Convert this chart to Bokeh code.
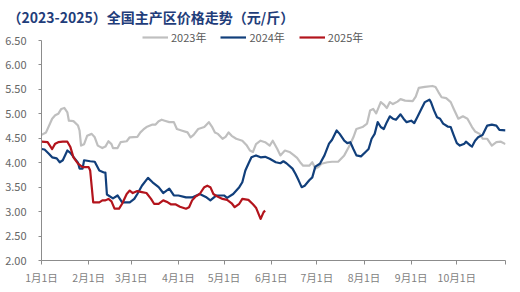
from bokeh.plotting import figure
from bokeh.models import (Range1d, FixedTicker, Legend, LegendItem, Title,
                          NumeralTickFormatter)
from bokeh.embed import file_html
from bokeh.resources import INLINE

title_text = "（2023-2025）全国主产区价格走势（元/斤）"

days_2023 = [0, 3, 7, 9, 11, 13, 15, 17, 18, 21, 24, 25, 26, 28, 30, 33, 35, 37, 40, 42,
             44, 46, 47, 50, 52, 56, 58, 63, 65, 67, 69, 73, 75, 77, 79, 81, 84, 87, 89, 92,
             96, 98, 100, 103, 107, 110, 112, 114, 116, 119, 121, 123, 125, 128, 132, 135,
             137, 139, 141, 144, 147, 150, 152, 155, 157, 160, 163, 166, 168, 170, 172, 176,
             178, 180, 182, 184, 188, 191, 195, 199, 202, 205, 207, 211, 214, 216, 218, 220,
             223, 225, 227, 229, 231, 234, 236, 239, 244, 246, 248, 252, 257, 259, 261, 263,
             266, 269, 271, 274, 277, 280, 283, 285, 288, 290, 293, 296, 299, 302, 305]
price_2023 = [4.57, 4.62, 4.90, 4.97, 5.00, 5.10, 5.12, 5.03, 4.86, 4.85, 4.76, 4.66, 4.35,
              4.38, 4.55, 4.59, 4.52, 4.35, 4.30, 4.33, 4.44, 4.38, 4.30, 4.30, 4.42, 4.44,
              4.52, 4.53, 4.62, 4.68, 4.73, 4.78, 4.78, 4.85, 4.88, 4.86, 4.83, 4.83, 4.69,
              4.66, 4.62, 4.52, 4.57, 4.69, 4.73, 4.83, 4.74, 4.62, 4.59, 4.49, 4.53, 4.62,
              4.55, 4.49, 4.45, 4.35, 4.25, 4.22, 4.38, 4.45, 4.42, 4.35, 4.45, 4.28, 4.15,
              4.25, 4.22, 4.15, 4.10, 4.01, 3.94, 3.94, 4.01, 3.88, 3.91, 3.98, 4.01, 4.02,
              4.02, 4.15, 4.32, 4.52, 4.69, 4.73, 4.80, 5.07, 5.10, 5.01, 5.24, 5.19, 5.12,
              5.24, 5.20, 5.25, 5.30, 5.27, 5.26, 5.35, 5.53, 5.55, 5.57, 5.55, 5.44, 5.34,
              5.32, 5.24, 5.10, 4.90, 4.95, 4.90, 4.73, 4.64, 4.59, 4.49, 4.49, 4.35, 4.42,
              4.43, 4.38]

days_2024 = [0, 2, 5, 7, 10, 12, 14, 17, 19, 22, 24, 25, 27, 28, 32, 35, 38, 41, 42, 43,
             47, 50, 53, 58, 61, 63, 66, 70, 73, 77, 80, 84, 87, 90, 95, 99, 104, 108, 111,
             115, 120, 122, 126, 130, 132, 134, 136, 138, 141, 144, 147, 150, 154, 157, 159,
             161, 165, 167, 169, 171, 173, 176, 178, 180, 183, 186, 189, 191, 194, 196, 199,
             201, 203, 205, 207, 210, 213, 215, 217, 219, 221, 223, 225, 227, 229, 231, 233,
             236, 238, 240, 243, 245, 247, 250, 252, 255, 256, 258, 260, 262, 264, 267, 269,
             271, 273, 275, 278, 279, 282, 283, 285, 287, 290, 293, 296, 299, 301, 305]
price_2024 = [4.28, 4.27, 4.18, 4.11, 4.09, 4.01, 4.05, 4.25, 4.20, 4.08, 4.00, 3.88, 3.88,
              4.05, 4.03, 4.02, 3.84, 3.80, 3.80, 3.35, 3.27, 3.33, 3.19, 3.19, 3.26, 3.36,
              3.53, 3.69, 3.60, 3.50, 3.38, 3.47, 3.33, 3.33, 3.29, 3.29, 3.36, 3.30, 3.23,
              3.33, 3.33, 3.28, 3.36, 3.50, 3.60, 3.84, 3.98, 4.11, 4.15, 4.11, 4.12, 4.08,
              4.01, 3.99, 4.03, 3.99, 3.88, 3.77, 3.64, 3.50, 3.53, 3.64, 3.70, 3.92, 3.98,
              4.15, 4.39, 4.47, 4.66, 4.59, 4.45, 4.40, 4.42, 4.28, 4.15, 4.13, 4.22, 4.28,
              4.49, 4.59, 4.83, 4.73, 4.69, 4.83, 4.95, 4.90, 4.88, 4.99, 4.90, 4.83, 4.86,
              4.81, 4.93, 5.12, 5.24, 5.29, 5.24, 5.07, 4.93, 4.90, 4.80, 4.74, 4.73, 4.56,
              4.40, 4.35, 4.39, 4.43, 4.35, 4.33, 4.45, 4.52, 4.57, 4.76, 4.78, 4.76, 4.67,
              4.66]

days_2025 = [0, 4, 7, 9, 11, 14, 17, 19, 21, 24, 27, 31, 32, 34, 38, 40, 42, 44, 46, 48,
             51, 53, 56, 58, 60, 63, 66, 69, 72, 74, 77, 80, 83, 85, 88, 91, 95, 97, 99, 101,
             104, 107, 109, 111, 113, 115, 119, 122, 125, 127, 130, 132, 136, 139, 141, 144,
             146, 147]
price_2025 = [4.43, 4.42, 4.28, 4.39, 4.42, 4.43, 4.43, 4.32, 4.11, 3.98, 3.91, 3.91, 3.84,
              3.19, 3.19, 3.23, 3.23, 3.26, 3.21, 3.06, 3.06, 3.16, 3.36, 3.43, 3.38, 3.42,
              3.40, 3.38, 3.26, 3.16, 3.16, 3.23, 3.19, 3.15, 3.15, 3.10, 3.06, 3.09, 3.23,
              3.30, 3.36, 3.50, 3.53, 3.50, 3.36, 3.32, 3.26, 3.24, 3.17, 3.09, 3.16, 3.26,
              3.24, 3.15, 3.08, 2.85, 2.99, 3.02]

tick_days = [0, 31, 59, 90, 120, 151, 181, 212, 243, 273, 305]
tick_labels = ["1月1日", "2月1日", "3月1日", "4月1日", "5月1日", "6月1日",
               "7月1日", "8月1日", "9月1日", "10月1日", ""]
y_ticks = [2.0, 2.5, 3.0, 3.5, 4.0, 4.5, 5.0, 5.5, 6.0, 6.5]

series_names = ["2023年", "2024年", "2025年"]
series_colors = ["#bfbfbf", "#113f7b", "#b3141c"]

FONT = "Noto Sans CJK SC"
PX_PER_UNIT = 220 / 4.5
Y_TOP = 6.5 + 14 / PX_PER_UNIT  # headroom above the axis for the legend

p = figure(width=520, height=292, output_backend="svg", toolbar_location=None,
           x_range=Range1d(0, 305), y_range=Range1d(2.0, Y_TOP),
           min_border_left=41, min_border_right=15, min_border_top=26,
           min_border_bottom=32, background_fill_color="white",
           border_fill_color="white")
p.title = None
p.outline_line_color = None
p.xgrid.visible = False
p.ygrid.visible = False

r23 = p.line(days_2023, price_2023, line_color=series_colors[0], line_width=2.2,
             line_join="round")
r24 = p.line(days_2024, price_2024, line_color=series_colors[1], line_width=2.2,
             line_join="round")
r25 = p.line(days_2025, price_2025, line_color=series_colors[2], line_width=2.2,
             line_join="round")

xa = p.xaxis[0]
xa.ticker = FixedTicker(ticks=tick_days)
xa.major_label_overrides = {d: l for d, l in zip(tick_days, tick_labels)}
xa.minor_tick_line_color = None
xa.major_tick_in = 0
xa.major_tick_out = 4
xa.major_tick_line_color = "#8c8c8c"
xa.axis_line_color = "#8c8c8c"
xa.major_label_standoff = 5
xa.major_label_text_font = FONT
xa.major_label_text_font_size = "10.5px"
xa.major_label_text_color = "#7f7f7f"

ya = p.yaxis[0]
ya.ticker = FixedTicker(ticks=y_ticks)
ya.bounds = (2.0, 6.5)
ya.formatter = NumeralTickFormatter(format="0.00")
ya.minor_tick_line_color = None
ya.major_tick_in = 0
ya.major_tick_out = 3
ya.major_tick_line_color = "#8c8c8c"
ya.axis_line_color = "#8c8c8c"
ya.major_label_standoff = 12
ya.major_label_text_font = FONT
ya.major_label_text_font_size = "11px"
ya.major_label_text_color = "#666666"

legend = Legend(items=[LegendItem(label=series_names[0], renderers=[r23]),
                       LegendItem(label=series_names[1], renderers=[r24]),
                       LegendItem(label=series_names[2], renderers=[r25])],
                orientation="horizontal", location=(101, 215),
                glyph_width=26, glyph_height=12, label_height=12,
                label_standoff=3, spacing=14, padding=0, margin=0,
                label_text_font=FONT, label_text_font_size="11px",
                label_text_color="#595959", background_fill_alpha=0,
                border_line_color=None)
p.add_layout(legend)

title = Title(text=title_text, align="left", offset=-34, standoff=0,
              text_font=FONT, text_font_style="bold", text_font_size="14px",
              text_color="#1f3d7a")
p.add_layout(title, "above")

open("out.html", "w").write(file_html(p, INLINE))
